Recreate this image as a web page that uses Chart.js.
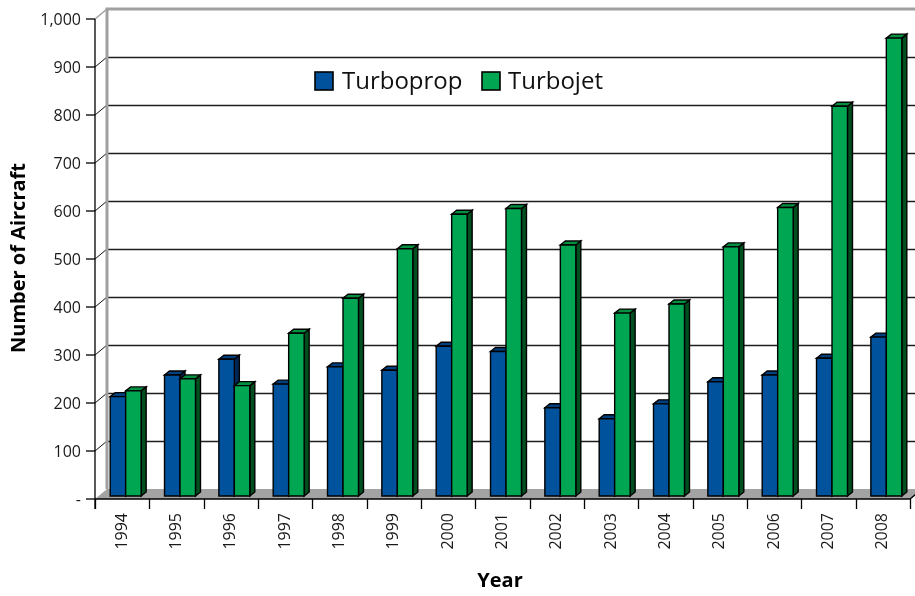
<!DOCTYPE html>
<html>
<head>
<meta charset="utf-8">
<title>Turboprop and Turbojet Aircraft</title>
<script src="https://cdn.jsdelivr.net/npm/chart.js@4.4.1/dist/chart.umd.min.js"></script>
<style>
  html, body { margin: 0; padding: 0; background: #fff; }
  canvas { display: block; }
</style>
</head>
<body>
<canvas id="fleetChart" width="915" height="596"></canvas>
<script>
const years = ['1994', '1995', '1996', '1997', '1998', '1999', '2000', '2001',
               '2002', '2003', '2004', '2005', '2006', '2007', '2008'];
const turboprop = [207, 252, 285, 233, 269, 262, 312, 301, 184, 161, 192, 238, 252, 287, 331];
const turbojet  = [219, 244, 230, 339, 412, 515, 587, 599, 523, 381, 400, 519, 601, 812, 954];

// 3D geometry: back wall offset, depth of the bar row, and bar thickness
const WALL_DX = 12, WALL_DY = 10;
const ROW_DX = 3.5, ROW_DY = 3;
const BOX_DX = 5, BOX_DY = 4;

const FONT = '"Open Sans", "Noto Sans", sans-serif';

function tickText(v) {
    return v === 0 ? '-' : v.toLocaleString('en-US');
}

function quad(ctx, pts, fill) {
    ctx.beginPath();
    ctx.moveTo(pts[0][0], pts[0][1]);
    for (let i = 1; i < pts.length; i++) ctx.lineTo(pts[i][0], pts[i][1]);
    ctx.closePath();
    ctx.fillStyle = fill;
    ctx.fill();
    ctx.stroke();
}

// Walls, floor, gridlines, ticks and the 3D boxes
const frame3d = {
    id: 'frame3d',
    beforeDatasetsDraw(chart) {
        const { ctx, chartArea: a, scales: { x, y } } = chart;
        const y0 = y.getPixelForValue(0);
        const yTop = y.getPixelForValue(1000);
        ctx.save();

        // floor
        ctx.fillStyle = '#a3a3a3';
        ctx.beginPath();
        ctx.moveTo(a.left, y0);
        ctx.lineTo(a.left + WALL_DX, y0 - WALL_DY);
        ctx.lineTo(a.right + WALL_DX, y0 - WALL_DY);
        ctx.lineTo(a.right, y0);
        ctx.closePath();
        ctx.fill();

        // gridlines on the back wall
        ctx.strokeStyle = '#1e1e1e';
        ctx.lineWidth = 1.4;
        y.ticks.forEach(t => {
            if (t.value === 0 || t.value === 1000) return;
            const py = Math.round(y.getPixelForValue(t.value) - WALL_DY) + 0.5;
            ctx.beginPath();
            ctx.moveTo(a.left + WALL_DX, py);
            ctx.lineTo(chart.width, py);
            ctx.stroke();
        });

        // diagonals on the side wall
        ctx.lineWidth = 1;
        ctx.strokeStyle = '#111';
        y.ticks.forEach(t => {
            if (t.value === 0 || t.value === 1000) return;
            const py = y.getPixelForValue(t.value);
            ctx.beginPath();
            ctx.moveTo(a.left, py);
            ctx.lineTo(a.left + WALL_DX, py - WALL_DY);
            ctx.stroke();
        });

        // back wall frame
        ctx.strokeStyle = '#a0a0a0';
        ctx.lineWidth = 3;
        ctx.beginPath();
        ctx.moveTo(a.left + WALL_DX, y0 - WALL_DY);
        ctx.lineTo(a.left + WALL_DX, yTop - WALL_DY);
        ctx.lineTo(chart.width, yTop - WALL_DY);
        ctx.stroke();
        ctx.lineWidth = 1.5;
        ctx.beginPath();
        ctx.moveTo(a.left, yTop);
        ctx.lineTo(a.left + WALL_DX, yTop - WALL_DY);
        ctx.stroke();

        // front axes
        ctx.strokeStyle = '#000';
        ctx.lineWidth = 1.3;
        ctx.beginPath();
        ctx.moveTo(a.left, yTop);
        ctx.lineTo(a.left, y0 + 10);
        ctx.moveTo(a.left, y0);
        ctx.lineTo(a.right, y0);
        ctx.lineTo(a.right + 6, y0 - 5);
        ctx.stroke();

        // y ticks and labels
        ctx.fillStyle = '#1a1a1a';
        ctx.font = '16px ' + FONT;
        ctx.textAlign = 'right';
        ctx.textBaseline = 'middle';
        y.ticks.forEach(t => {
            const py = y.getPixelForValue(t.value);
            ctx.beginPath();
            ctx.moveTo(a.left - 9, py);
            ctx.lineTo(a.left, py);
            ctx.stroke();
            ctx.fillText(tickText(t.value), a.left - 14, py + 1);
        });

        // x ticks at category boundaries and rotated year labels
        const step = (a.right - a.left) / years.length;
        for (let i = 0; i <= years.length; i++) {
            const px = Math.round(a.left + i * step) + 0.5;
            ctx.beginPath();
            ctx.moveTo(px, y0);
            ctx.lineTo(px, y0 + 10);
            ctx.stroke();
        }
        years.forEach((yr, i) => {
            ctx.save();
            ctx.translate(x.getPixelForValue(i), y0 + 14);
            ctx.rotate(-Math.PI / 2);
            ctx.textAlign = 'right';
            ctx.textBaseline = 'middle';
            ctx.fillText(yr, 0, 0);
            ctx.restore();
        });

        // bars, category by category so neighbours overlap correctly
        const metas = chart.data.datasets.map((ds, i) => chart.getDatasetMeta(i));
        ctx.strokeStyle = '#000';
        ctx.lineWidth = 1.4;
        ctx.lineJoin = 'miter';
        years.forEach((yr, i) => {
            metas.forEach(meta => {
                const ds = chart.data.datasets[meta.index];
                const el = meta.data[i];
                const p = el.getProps(['x', 'y', 'base', 'width'], true);
                const l = p.x - p.width / 2 + ROW_DX;
                const r = p.x + p.width / 2 + ROW_DX;
                const t = p.y - ROW_DY;
                const b = p.base - ROW_DY;
                quad(ctx, [[r, b], [r + BOX_DX, b - BOX_DY], [r + BOX_DX, t - BOX_DY], [r, t]], ds.sideColor);
                quad(ctx, [[l, t], [l + BOX_DX, t - BOX_DY], [r + BOX_DX, t - BOX_DY], [r, t]], ds.topColor);
                quad(ctx, [[l, b], [l, t], [r, t], [r, b]], ds.backgroundColor);
            });
        });

        ctx.restore();
        return false;
    },
    afterDraw(chart) {
        const { ctx } = chart;
        ctx.save();
        ctx.fillStyle = '#000';

        // axis titles
        ctx.font = 'bold 20px ' + FONT;
        ctx.textAlign = 'center';
        ctx.textBaseline = 'middle';
        ctx.save();
        ctx.translate(19, 258);
        ctx.rotate(-Math.PI / 2);
        ctx.fillText('Number of Aircraft', 0, 0);
        ctx.restore();
        ctx.font = 'bold 20px ' + FONT;
        ctx.fillText('Year', 500, 581);

        // legend
        ctx.font = '24px ' + FONT;
        ctx.textAlign = 'left';
        const items = [[315, 342], [482, 508]];
        chart.data.datasets.forEach((ds, i) => {
            const [bx, tx] = items[i];
            ctx.fillStyle = ds.backgroundColor;
            ctx.fillRect(bx, 72, 18, 18);
            ctx.strokeStyle = '#000';
            ctx.lineWidth = 1.6;
            ctx.strokeRect(bx, 72, 18, 18);
            ctx.fillStyle = '#111';
            ctx.fillText(ds.label, tx, 82);
        });
        ctx.restore();
    }
};

new Chart(document.getElementById('fleetChart'), {
    type: 'bar',
    data: {
        labels: years,
        datasets: [
            { label: 'Turboprop', data: turboprop, backgroundColor: '#00529c', topColor: '#003f7d', sideColor: '#002856' },
            { label: 'Turbojet', data: turbojet, backgroundColor: '#00a651', topColor: '#00903f', sideColor: '#00501f' }
        ]
    },
    options: {
        responsive: false,
        animation: false,
        categoryPercentage: 0.57,
        barPercentage: 1,
        layout: { padding: { left: 95, right: 5, top: 19, bottom: 97 } },
        plugins: { legend: { display: false }, tooltip: { enabled: false } },
        scales: {
            x: { display: false },
            y: { display: false, min: 0, max: 1000, ticks: { stepSize: 100 } }
        }
    },
    plugins: [frame3d]
});
</script>
</body>
</html>
